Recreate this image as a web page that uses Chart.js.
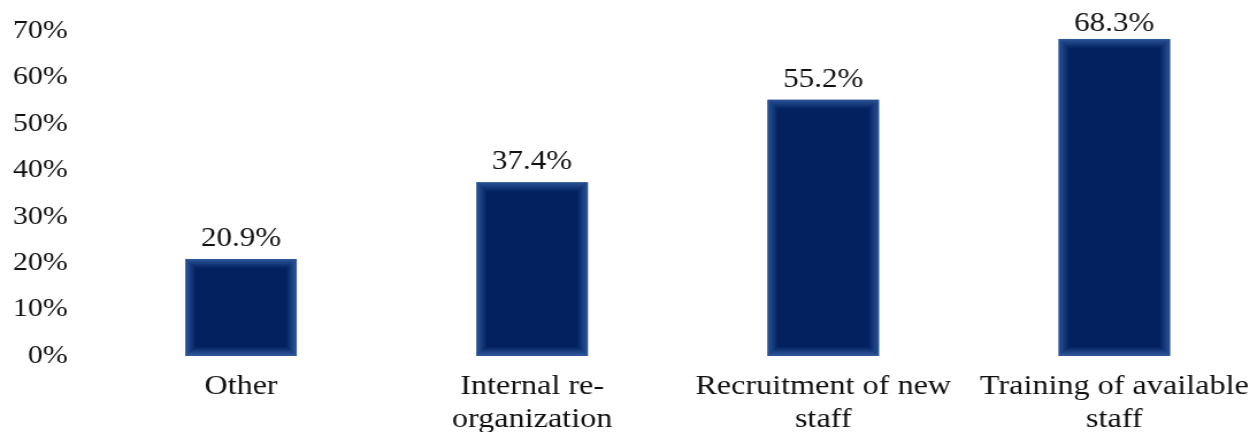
<!DOCTYPE html>
<html>
<head>
<meta charset="utf-8">
<script src="https://cdn.jsdelivr.net/npm/chart.js@4/dist/chart.umd.min.js"></script>
<style>
    html, body { margin: 0; padding: 0; background: #fff; overflow: hidden; }
    /* the reference text is stretched sideways, so the whole drawing is too */
    #wrap { width: 1100px; height: 432px; transform: scaleX(1.15); transform-origin: 0 0; }
</style>
</head>
<body>
<div id="wrap"><canvas id="chart" width="1100" height="432"></canvas></div>
<script>
// Data
const categories = ['Other', ['Internal re-', 'organization'], ['Recruitment of new', 'staff'], ['Training of available', 'staff']];
const shares = [20.9, 37.4, 55.2, 68.3];
const yTicks = [0, 10, 20, 30, 40, 50, 60, 70];

const FONT = "'Liberation Serif', 'Times New Roman', serif";
const TEXT = '#111111';

// Soft light edge inside each bar, like the original
const barGlow = {
    id: 'barGlow',
    afterDatasetsDraw(chart) {
        const ctx = chart.ctx;
        chart.getDatasetMeta(0).data.forEach(bar => {
            const left = bar.x - bar.width / 2;
            const top = bar.y;
            const w = bar.width;
            const h = bar.base - bar.y;
            ctx.save();
            for (let i = 0; i < 9; i++) {
                ctx.strokeStyle = `rgba(75, 125, 195, ${0.6 * (1 - i / 9)})`;
                ctx.lineWidth = 1;
                ctx.strokeRect(left + i + 0.5, top + i + 0.5, w - 2 * i - 1, h - 2 * i - 1);
            }
            ctx.restore();
        });
    }
};

// Value labels above the bars
const valueLabels = {
    id: 'valueLabels',
    afterDatasetsDraw(chart) {
        const ctx = chart.ctx;
        ctx.save();
        ctx.font = `27px ${FONT}`;
        ctx.fillStyle = TEXT;
        ctx.textAlign = 'center';
        ctx.textBaseline = 'alphabetic';
        chart.getDatasetMeta(0).data.forEach((bar, i) => {
            const y = Math.max(bar.y - 13, 31);
            ctx.fillText(shares[i].toFixed(1) + '%', bar.x, y);
        });
        ctx.restore();
    }
};

new Chart(document.getElementById('chart'), {
    type: 'bar',
    data: {
        labels: categories,
        datasets: [{
            data: shares,
            backgroundColor: '#03215f',
            borderWidth: 0,
            categoryPercentage: 1.0,
            barPercentage: 0.383
        }]
    },
    options: {
        responsive: false,
        animation: false,
        layout: { padding: { top: 31, right: 1, left: 0, bottom: 0 } },
        plugins: {
            legend: { display: false },
            tooltip: { enabled: false }
        },
        scales: {
            x: {
                grid: { display: false, drawTicks: false },
                border: { display: false },
                afterFit: s => { s.height = 76; },
                ticks: {
                    color: TEXT,
                    padding: 14,
                    maxRotation: 0,
                    autoSkip: false,
                    font: { family: FONT, size: 28, lineHeight: 1.18 }
                }
            },
            y: {
                min: 0,
                max: 70,
                afterBuildTicks: s => { s.ticks = yTicks.map(v => ({ value: v })); },
                afterFit: s => { s.width = 83; },
                grid: { display: false, drawTicks: true, tickLength: 24 },
                border: { display: false },
                ticks: {
                    color: TEXT,
                    padding: 0,
                    font: { family: FONT, size: 26 },
                    callback: v => v + '%'
                }
            }
        }
    },
    plugins: [barGlow, valueLabels]
});
</script>
</body>
</html>
